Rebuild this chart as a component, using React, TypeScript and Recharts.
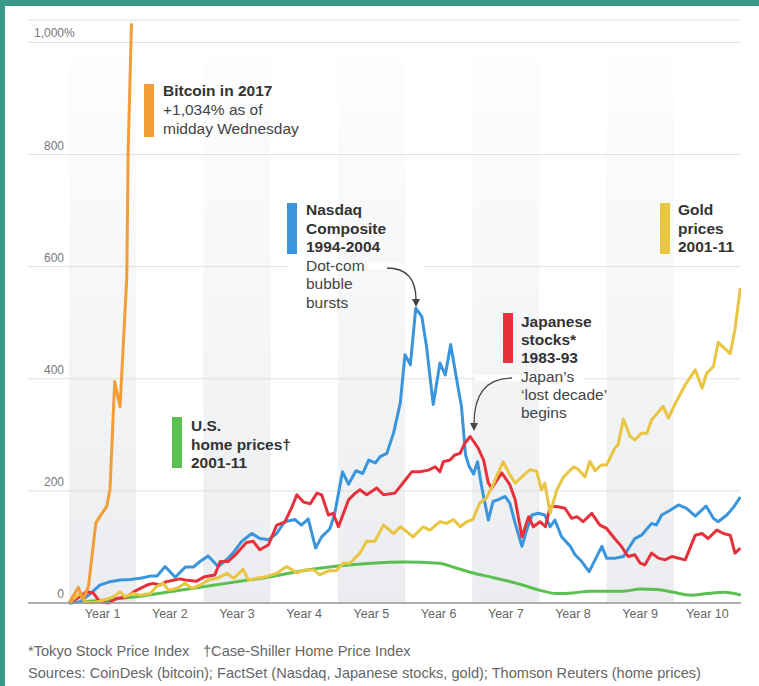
import { LineChart, Line, XAxis, YAxis, CartesianGrid, ReferenceArea } from "recharts";

// cumulative change, % — x is years since start of each boom
const bitcoinYears = [0, 0.14, 0.21, 0.29, 0.4, 0.48, 0.56, 0.61, 0.68, 0.76, 0.86, 0.88, 0.93];
const bitcoinPct = [0, 28, 6, 30, 143, 158, 172, 202, 395, 350, 581, 806, 1034];

const nasdaqYears = [
  0, 0.16, 0.3, 0.46, 0.61, 0.76, 0.91, 1.06, 1.21, 1.31, 1.43, 1.58, 1.73, 1.85, 1.95, 2.07, 2.22, 2.35, 2.44, 2.57,
  2.72, 2.84, 2.97, 3.09, 3.21, 3.36, 3.46, 3.56, 3.67, 3.76, 3.88, 3.95, 4.07, 4.16, 4.27, 4.37, 4.46, 4.56, 4.63,
  4.73, 4.83, 4.93, 5.0, 5.08, 5.16, 5.25, 5.32, 5.42, 5.52, 5.6, 5.68, 5.77, 5.84, 5.9, 5.95, 6.02, 6.08, 6.14, 6.24,
  6.31, 6.38, 6.49, 6.56, 6.64, 6.74, 6.81, 6.89, 6.98, 7.08, 7.16, 7.23, 7.33, 7.46, 7.53, 7.63, 7.74, 7.93, 8.0,
  8.13, 8.25, 8.42, 8.52, 8.67, 8.74, 8.82, 8.94, 9.07, 9.19, 9.32, 9.48, 9.59, 9.66, 9.79, 9.89, 9.99,
];
const nasdaqPct = [
  0, 2, 15, 32, 38, 41, 42, 44, 48, 48, 65, 46, 64, 64, 74, 84, 65, 78, 89, 110,
  124, 115, 113, 124, 145, 149, 139, 150, 98, 118, 132, 157, 234, 212, 236, 231, 255, 250, 261,
  267, 303, 357, 443, 425, 526, 511, 458, 354, 428, 407, 461, 398, 351, 265, 245, 230, 252, 208, 148,
  181, 184, 190, 178, 142, 101, 130, 157, 160, 157, 136, 148, 118, 101, 86, 74, 56, 101, 80,
  80, 83, 115, 121, 142, 139, 157, 165, 175, 169, 155, 173, 151, 145, 157, 171, 189,
];

const japanYears = [
  0, 0.16, 0.26, 0.36, 0.46, 0.58, 0.71, 0.86, 1.01, 1.16, 1.25, 1.35, 1.45, 1.65, 1.73, 1.9, 2.02, 2.17, 2.25, 2.37,
  2.5, 2.64, 2.74, 2.84, 2.97, 3.09, 3.21, 3.32, 3.39, 3.49, 3.59, 3.69, 3.76, 3.86, 3.93, 4.01, 4.16, 4.26, 4.33,
  4.43, 4.58, 4.68, 4.85, 4.97, 5.1, 5.22, 5.35, 5.45, 5.52, 5.57, 5.67, 5.74, 5.82, 5.89, 5.97, 6.04, 6.09, 6.17,
  6.24, 6.29, 6.44, 6.56, 6.64, 6.74, 6.84, 6.91, 7.01, 7.09, 7.16, 7.26, 7.38, 7.48, 7.56, 7.65, 7.78, 7.9, 8.0,
  8.12, 8.22, 8.32, 8.42, 8.5, 8.57, 8.67, 8.77, 8.87, 8.97, 9.17, 9.32, 9.42, 9.51, 9.64, 9.74, 9.84, 9.91, 9.99,
];
const japanPct = [
  0, 11, 20, 18, 2, 0, 8, 11, 23, 32, 35, 32, 38, 43, 41, 39, 47, 50, 74, 74,
  89, 108, 110, 95, 104, 139, 144, 172, 193, 180, 177, 196, 193, 157, 160, 136, 184, 196, 202,
  193, 205, 193, 196, 214, 234, 234, 237, 243, 234, 252, 255, 264, 267, 285, 297, 285, 276, 255,
  214, 205, 232, 211, 184, 118, 154, 136, 145, 136, 172, 172, 169, 151, 154, 145, 160, 139, 133,
  115, 101, 83, 86, 71, 68, 89, 80, 77, 83, 77, 121, 124, 115, 130, 124, 121, 89, 98,
];

const goldYears = [
  0, 0.16, 0.24, 0.36, 0.51, 0.66, 0.76, 0.83, 0.96, 1.06, 1.21, 1.3, 1.4, 1.48, 1.6, 1.73, 1.83, 1.95, 2.07, 2.2,
  2.35, 2.45, 2.59, 2.67, 2.79, 2.94, 3.09, 3.24, 3.39, 3.51, 3.64, 3.73, 3.85, 3.98, 4.08, 4.18, 4.33, 4.43, 4.55,
  4.68, 4.83, 4.93, 5.03, 5.12, 5.27, 5.37, 5.52, 5.62, 5.72, 5.82, 5.92, 6.01, 6.11, 6.21, 6.31, 6.46, 6.56, 6.64,
  6.74, 6.86, 6.96, 7.03, 7.08, 7.16, 7.26, 7.36, 7.51, 7.58, 7.68, 7.75, 7.83, 7.92, 8.0, 8.12, 8.17, 8.25, 8.35,
  8.42, 8.52, 8.6, 8.67, 8.74, 8.84, 8.92, 9.04, 9.17, 9.32, 9.42, 9.49, 9.59, 9.66, 9.84, 9.91, 9.99,
];
const goldPct = [
  0, 17, 2, 0, 5, 11, 20, 11, 17, 14, 17, 29, 35, 23, 26, 35, 26, 32, 41, 44,
  53, 44, 60, 41, 44, 47, 53, 65, 54, 59, 59, 50, 57, 58, 71, 71, 89, 110, 110,
  139, 124, 136, 127, 118, 136, 130, 145, 142, 149, 136, 145, 149, 178, 187, 211, 252, 229, 214,
  225, 238, 235, 202, 214, 160, 202, 225, 243, 238, 225, 253, 236, 246, 246, 276, 282, 328, 297,
  291, 303, 303, 327, 336, 351, 330, 360, 389, 416, 383, 410, 422, 465, 445, 488, 562,
];

const homeYears = [
  0, 0.5, 1, 1.5, 2, 2.5, 3, 3.5, 4, 4.5, 5, 5.5, 5.75, 6, 6.25, 6.5, 6.75, 7, 7.25, 7.5,
  7.75, 8, 8.25, 8.5, 8.75, 9, 9.25, 9.5, 9.75, 10,
];
const homePct = [
  0, 5, 11, 20, 29, 38, 47, 58, 66, 71, 73, 71, 63, 54, 47, 40, 32, 23, 17, 18,
  21, 21, 21, 25, 24, 19, 14, 17, 19, 14,
];

const yTicks = [0, 200, 400, 600, 800, 1000];
const yearTicks = [0, 1, 2, 3, 4, 5, 6, 7, 8, 9];
const yearLabelTicks = [0.5, 1.5, 2.5, 3.5, 4.5, 5.5, 6.5, 7.5, 8.5, 9.5];
const shadedYears = [0, 2, 4, 6, 8];

const toPoints = (years: number[], pct: number[]) => years.map((x, i) => ({ x, v: pct[i] }));

const series = [
  { key: "home", data: toPoints(homeYears, homePct), color: "#5cbf52", type: "monotone" as const },
  { key: "nasdaq", data: toPoints(nasdaqYears, nasdaqPct), color: "#3a95dc", type: "linear" as const },
  { key: "japan", data: toPoints(japanYears, japanPct), color: "#e8303b", type: "linear" as const },
  { key: "gold", data: toPoints(goldYears, goldPct), color: "#e9c542", type: "linear" as const },
  { key: "bitcoin", data: toPoints(bitcoinYears, bitcoinPct), color: "#f29d37", type: "linear" as const },
];

const FONT = '"Liberation Sans", Arial, Helvetica, sans-serif';
const X_DOMAIN = [-0.61, 10];

const YTick = ({ x, y, payload }: any) => (
  <g fontFamily={FONT} fontSize={12} fill="#777">
    <text x={x + 36} y={y - 5} textAnchor="end">
      {Number(payload.value).toLocaleString("en-US")}
    </text>
    {payload.value === 1000 && (
      <text x={x + 36} y={y - 5}>
        %
      </text>
    )}
  </g>
);

interface NoteProps {
  x: number;
  y: number;
  color: string;
  bar: [number, number, number];
  bold: string[];
  light?: string[];
  lh: number;
}

const Note = ({ x, y, color, bar, bold, light = [], lh }: NoteProps) => (
  <g fontFamily={FONT} fontSize={15.5}>
    <rect x={bar[0]} y={bar[1]} width={10} height={bar[2]} fill={color} />
    {bold.map((t, i) => (
      <text key={t} x={x} y={y + i * lh} fontWeight="bold" fill="#333">
        {t}
      </text>
    ))}
    {light.map((t, i) => (
      <text key={t} x={x} y={y + (bold.length + i) * lh} fill="#444">
        {t}
      </text>
    ))}
  </g>
);

export default function App() {
  return (
    <div style={{ position: "fixed", left: 0, top: 0, width: 759, height: 686, background: "#fff", overflow: "hidden" }}>
      <LineChart width={759} height={640} margin={{ top: 20, right: 18, bottom: 12, left: 27 }}>
        <defs>
          <linearGradient id="band" x1="0" y1="0" x2="0" y2="1">
            <stop offset="0%" stopColor="#d9dde2" stopOpacity={0.06} />
            <stop offset="45%" stopColor="#d9dde2" stopOpacity={0.25} />
            <stop offset="100%" stopColor="#d9dde2" stopOpacity={0.55} />
          </linearGradient>
        </defs>
        <CartesianGrid horizontal vertical={false} stroke="#e0e0e0" />
        {shadedYears.map((s) => (
          <ReferenceArea key={s} x1={s} x2={s + 1} y1={0} y2={970} fill="url(#band)" fillOpacity={1} stroke="none" />
        ))}
        <XAxis
          dataKey="x"
          type="number"
          domain={X_DOMAIN}
          ticks={yearTicks}
          tick={false}
          tickSize={6}
          tickLine={{ stroke: "#555", strokeWidth: 1.5 }}
          axisLine={{ stroke: "#999", strokeWidth: 1.5 }}
          height={1}
          allowDataOverflow
        />
        <XAxis
          xAxisId="labels"
          dataKey="x"
          type="number"
          domain={X_DOMAIN}
          ticks={yearLabelTicks}
          tickFormatter={(v: number) => `Year ${Math.ceil(v)}`}
          tickSize={0}
          tickMargin={5}
          axisLine={false}
          tickLine={false}
          tick={{ fill: "#666", fontSize: 12.5, fontFamily: FONT }}
          height={24}
          allowDataOverflow
        />
        <YAxis
          type="number"
          domain={[0, 1040]}
          ticks={yTicks}
          width={1}
          tickSize={0}
          tickMargin={0}
          axisLine={false}
          tickLine={false}
          tick={<YTick />}
        />
        {series.map((s) => (
          <Line
            key={s.key}
            data={s.data}
            dataKey="v"
            type={s.type}
            stroke={s.color}
            strokeWidth={3}
            strokeLinejoin="round"
            dot={false}
            activeDot={false}
            isAnimationActive={false}
          />
        ))}
      </LineChart>

      <svg width={759} height={686} style={{ position: "absolute", left: 0, top: 0, pointerEvents: "none" }}>
        <rect x={288} y={263} width={135} height={6} fill="#fff" />
        <rect x={475} y={375} width={108} height={6} fill="#fff" />

        <Note x={163} y={96} lh={19} color="#f29d37" bar={[144, 84, 53]} bold={["Bitcoin in 2017"]} light={["+1,034% as of", "midday Wednesday"]} />
        <Note x={306} y={215} lh={18.6} color="#3a95dc" bar={[287, 203, 51]} bold={["Nasdaq", "Composite", "1994-2004"]} light={["Dot-com", "bubble", "bursts"]} />
        <Note x={678} y={215} lh={18.5} color="#e9c542" bar={[660, 203, 51]} bold={["Gold", "prices", "2001-11"]} />
        <Note x={521} y={327} lh={18.2} color="#e8303b" bar={[503, 313, 50]} bold={["Japanese", "stocks*", "1983-93"]} light={["Japan\u2019s", "\u2018lost decade\u2019", "begins"]} />
        <Note x={191} y={431} lh={18.5} color="#5cbf52" bar={[172, 417, 51]} bold={["U.S.", "home prices\u2020", "2001-11"]} />

        <g stroke="#444" strokeWidth={1.3} fill="none">
          <path d="M387,268 Q416,268 416,300" />
          <path d="M512,378 Q474,378 474,424" />
        </g>
        <g fill="#444">
          <polygon points="412,299 420,299 416,307" />
          <polygon points="470,423 478,423 474,431" />
        </g>

        <g fontFamily={FONT} fontSize={14.6} fill="#666">
          <text x={28} y={656}>*Tokyo Stock Price Index</text>
          <text x={203} y={656}>{"\u2020Case-Shiller Home Price Index"}</text>
          <text x={28} y={678}>Sources: CoinDesk (bitcoin); FactSet (Nasdaq, Japanese stocks, gold); Thomson Reuters (home prices)</text>
        </g>
      </svg>

      <div style={{ position: "absolute", left: 0, top: 0, width: 759, height: 6, background: "#3b998a" }} />
      <div style={{ position: "absolute", left: 0, top: 0, width: 5, height: 686, background: "#3b998a" }} />
    </div>
  );
}
